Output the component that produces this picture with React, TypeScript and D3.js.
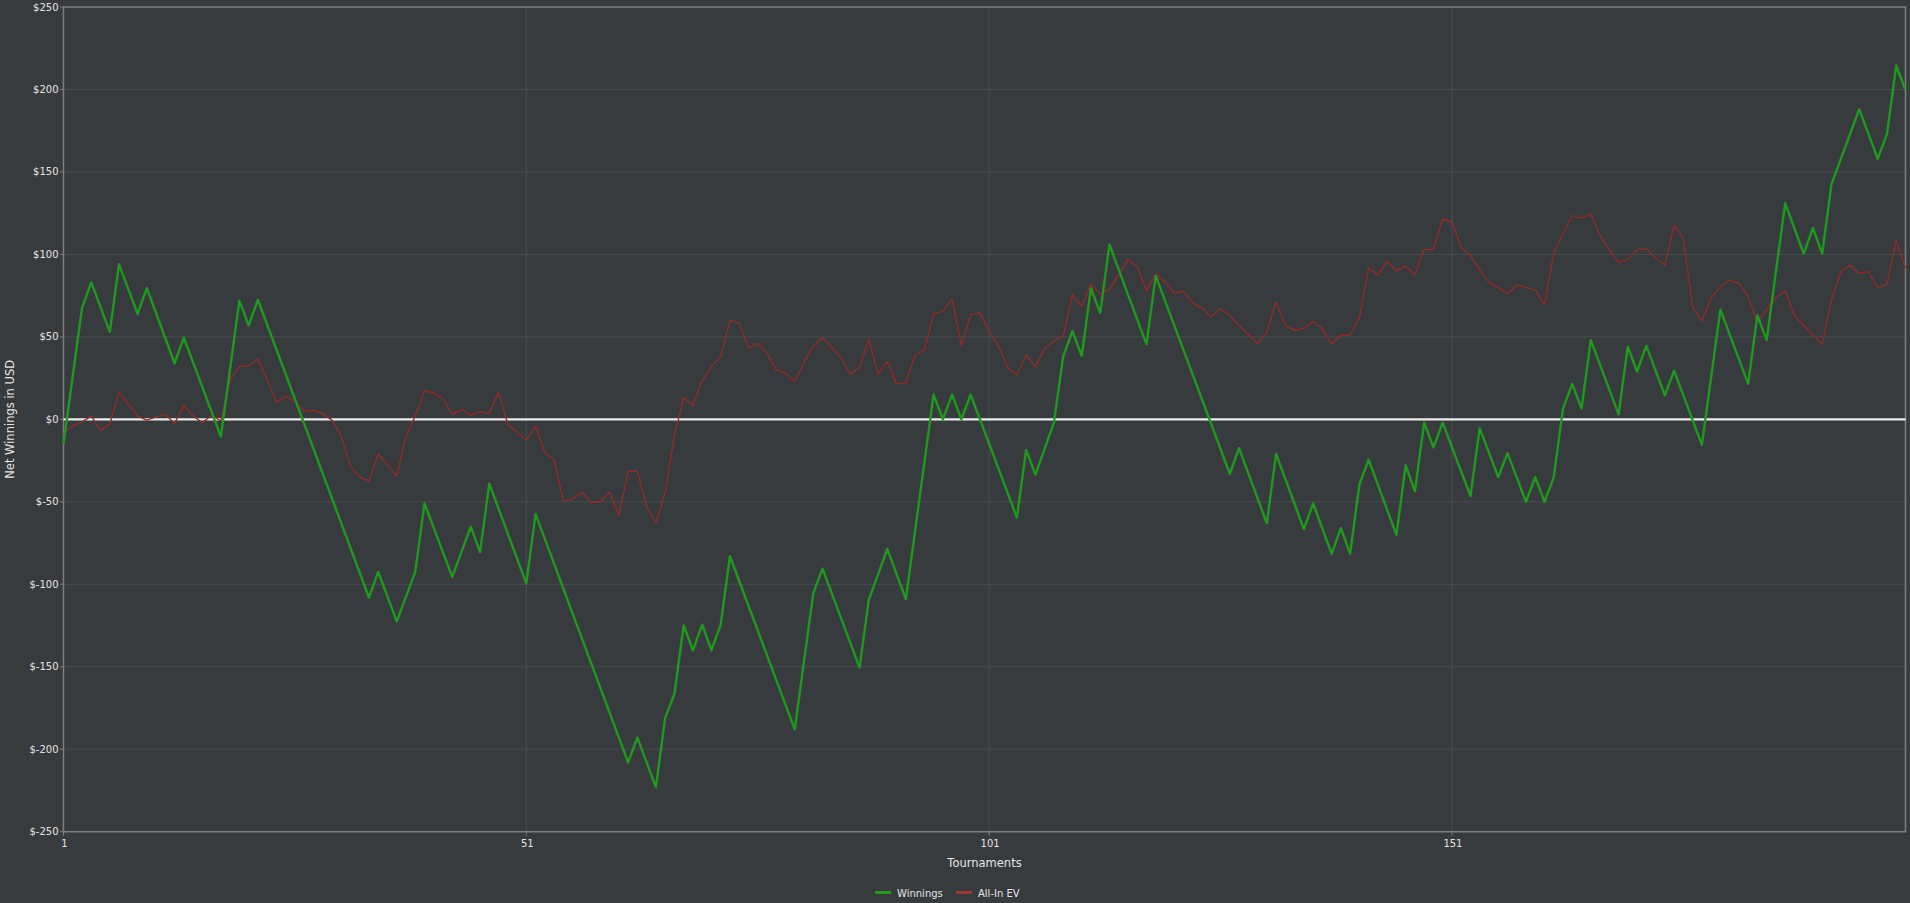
import React from 'react';
import * as d3 from 'd3';

// Winnings: vertices of the cumulative line (tournament number, net USD)
const winningsTournaments = [
  1, 3, 4, 6, 7, 9, 10, 13, 14, 18, 20, 21, 22, 34, 35, 37, 39, 40, 43, 45, 46, 47, 51, 52,
  62, 63, 65, 66, 67, 68, 69, 70, 71, 72, 73, 80, 82, 83, 87, 88, 90, 92, 95, 96, 97, 98, 99,
  104, 105, 106, 108, 109, 110, 111, 112, 113, 114, 118, 119, 127, 128, 131, 132, 135, 136,
  138, 139, 140, 141, 142, 145, 146, 147, 148, 149, 150, 153, 154, 156, 157, 159, 160, 161,
  162, 163, 164, 165, 166, 169, 170, 171, 172, 174, 175, 178, 180, 183, 184, 185, 187, 189,
  190, 191, 192, 195, 197, 198, 199, 200,
];
const winningsValues = [
  -15, 67.5, 83, 53, 94, 64, 79.5, 34, 49.5, -10.5, 72, 57, 72.5, -108, -92.5, -122.5, -92.5, -51, -95.5, -65, -80.5, -39, -99.5, -57.5,
  -208, -193, -223, -181, -166.5, -125, -140, -124.5, -140, -124.5, -83, -188, -105.5, -90.5, -150.5, -109.5, -78.5, -109, 15, 0, 15, 0, 15,
  -59.5, -18.5, -33.5, -2, 38, 53.5, 38.5, 79.5, 64.5, 106, 45.5, 87, -33, -17.5, -63, -21, -66.5, -51,
  -81.5, -66, -81.5, -39.5, -24.5, -70, -28, -43.5, -2, -17, -2, -46.5, -5.5, -35, -20.5, -50, -35, -50,
  -35, 6.5, 21.5, 6.5, 48, 3, 44, 29, 44.5, 14.5, 29.5, -15.5, 66.5, 21.5, 63, 48, 131, 100.5,
  116, 100.5, 142.5, 188, 158, 173, 214.5, 199.5,
];

// All-In EV: one value per tournament, 1..200
const allInEV = [
  -8, -4, -1.5, 2, -6.5, -3, 16.5, 9, 2, -0.5,
  1.5, 3, -2.5, 8.5, 2, -2, 2.5, -1, 24, 32,
  32.5, 36.5, 24, 10.5, 14, 11, 5, 5.5, 3.5, -0.5,
  -10, -28.5, -35, -37.5, -21, -27.5, -34.5, -10.5, 2, 17.5,
  16, 12.5, 3, 6, 2.5, 4.5, 3.5, 16.5, -3, -8,
  -12.5, -4, -20, -24.5, -49.5, -48.5, -44, -50.5, -50, -44,
  -58.5, -31.5, -31.5, -53, -63, -44.5, -10, 13, 8.5, 23.5,
  32, 38, 60, 58.5, 43, 46, 40, 30, 28, 23,
  34.5, 44.5, 49.5, 43.5, 37.5, 27.5, 31.5, 48.5, 27.5, 35,
  21.5, 22, 39, 42, 64, 65.5, 73, 44.5, 63.5, 64.5,
  53.5, 44.5, 31.5, 27, 39, 32, 43, 47.5, 50.5, 75.5,
  68.5, 82, 76, 79, 87.5, 97, 92.5, 78, 88, 83.5,
  76.5, 77.5, 70.5, 67.5, 62, 67, 63, 57, 51.5, 46,
  52.5, 71.5, 57, 54, 55, 59.5, 55, 45.5, 51, 51,
  61.5, 92, 87.5, 96, 90, 93, 87.5, 103, 103, 121.5,
  119.5, 104, 99.5, 90.5, 83, 80, 76, 81.5, 80, 78.5,
  69.5, 101, 112.5, 123.5, 122, 124.5, 111.5, 103, 95, 97,
  103, 103.5, 98, 93.5, 117.5, 110, 68, 59.5, 73.5, 80.5,
  84.5, 82.5, 74.5, 59, 66.5, 74, 78, 63, 57, 51,
  45.5, 72.5, 89.5, 93.5, 88.5, 89.5, 79.5, 82, 108.5, 91.5,
];

const yTicks = [250, 200, 150, 100, 50, 0, -50, -100, -150, -200, -250];
const xTicks = [1, 51, 101, 151];
const seriesNames = ['Winnings', 'All-In EV'];

const W = 1910;
const H = 903;
const BG = '#383b3e';
const GRID = '#4a4d50';
const BORDER = '#7e7e7e';
const TEXT = '#e4e4e4';
const GREEN = '#1f9a1f';
const RED = '#8e2c2c';
const FONT = '"DejaVu Sans", Verdana, sans-serif';

export default function App() {
  const left = 63.5;
  const right = 1905.5;
  const top = 7;
  const bottom = 831.7;

  const x = d3.scaleLinear().domain([1, 200]).range([left, right]);
  const y = d3.scaleLinear().domain([-250, 250]).range([bottom, top]);

  const winPts: [number, number][] = winningsTournaments.map((t, i) => [t, winningsValues[i]]);
  const evPts: [number, number][] = allInEV.map((v, i) => [i + 1, v]);

  const line = d3
    .line<[number, number]>()
    .x((d) => x(d[0]))
    .y((d) => y(d[1]))
    .curve(d3.curveLinear);

  const fmt = (v: number) => (v < 0 ? `$-${Math.abs(v)}` : `$${v}`);

  return (
    <div style={{ position: 'fixed', left: 0, top: 0, width: W, height: H, background: BG }}>
      <svg width={W} height={H} style={{ display: 'block' }}>
        <rect x={0} y={0} width={W} height={H} fill={BG} />
        {/* horizontal grid */}
        {yTicks.map((v) => (
          <line key={'gy' + v} x1={left} x2={right} y1={y(v)} y2={y(v)} stroke={GRID} strokeWidth={1} />
        ))}
        {/* vertical grid */}
        {xTicks.slice(1).map((t) => (
          <line key={'gx' + t} x1={x(t)} x2={x(t)} y1={top} y2={bottom} stroke={GRID} strokeWidth={1} />
        ))}
        {/* plot border */}
        <rect x={left} y={top} width={right - left} height={bottom - top} fill="none" stroke={BORDER} strokeWidth={1.5} />
        {/* y ticks and labels */}
        {yTicks.map((v) => (
          <g key={'ty' + v}>
            <line x1={left - 3.5} x2={left} y1={y(v)} y2={y(v)} stroke={BORDER} strokeWidth={1} />
            <text
              x={left - 5}
              y={y(v)}
              dy="0.35em"
              textAnchor="end"
              fill={TEXT}
              fontFamily={FONT}
              fontSize={10}
            >
              {fmt(v)}
            </text>
          </g>
        ))}
        {/* x ticks and labels */}
        {xTicks.map((t) => (
          <g key={'tx' + t}>
            <line x1={x(t)} x2={x(t)} y1={bottom} y2={bottom + 4} stroke={BORDER} strokeWidth={1} />
            <text
              x={x(t) + 1}
              y={bottom + 11.5}
              dy="0.35em"
              textAnchor="middle"
              fill={TEXT}
              fontFamily={FONT}
              fontSize={10}
            >
              {t}
            </text>
          </g>
        ))}
        {/* zero line */}
        <line x1={left} x2={right} y1={y(0)} y2={y(0)} stroke="#ececec" strokeWidth={2.2} />
        {/* series */}
        <path d={line(evPts) || ''} fill="none" stroke={RED} strokeWidth={1.4} strokeLinejoin="round" />
        <path d={line(winPts) || ''} fill="none" stroke={GREEN} strokeWidth={2.4} strokeLinejoin="round" />
        {/* axis titles */}
        <text
          x={(left + right) / 2}
          y={863}
          dy="0.35em"
          textAnchor="middle"
          fill={TEXT}
          fontFamily={FONT}
          fontSize={11.5}
        >
          Tournaments
        </text>
        <text
          transform={`translate(10, ${(top + bottom) / 2}) rotate(-90)`}
          dy="0.35em"
          textAnchor="middle"
          fill={TEXT}
          fontFamily={FONT}
          fontSize={11.5}
        >
          Net Winnings in USD
        </text>
        {/* legend */}
        <g>
          <rect x={875} y={891} width={16} height={3} fill={GREEN} />
          <text x={897} y={893} dy="0.35em" fill={TEXT} fontFamily={FONT} fontSize={10}>
            {seriesNames[0]}
          </text>
          <rect x={956} y={891} width={16} height={3} fill="#9e3838" />
          <text x={978} y={893} dy="0.35em" fill={TEXT} fontFamily={FONT} fontSize={10}>
            {seriesNames[1]}
          </text>
        </g>
      </svg>
    </div>
  );
}
